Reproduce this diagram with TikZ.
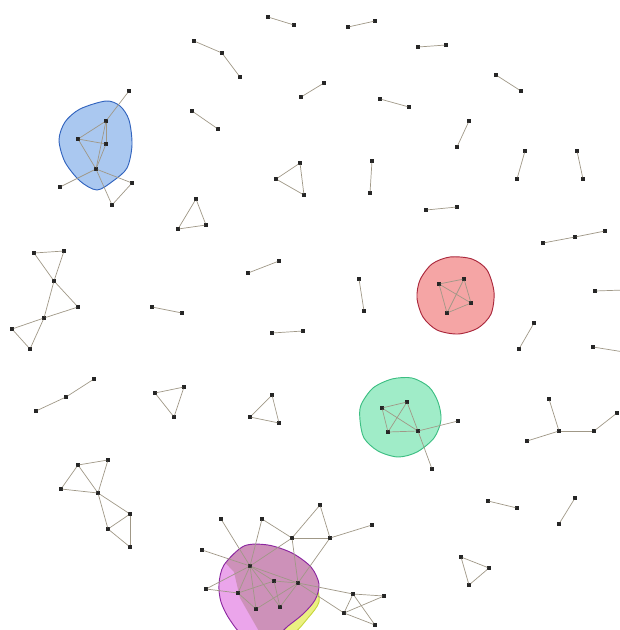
\documentclass[tikz,border=0pt]{standalone}
\usepackage{tikz}
\usetikzlibrary{positioning}
\definecolor{linkgray}{RGB}{160,152,135}
\definecolor{bluefill}{RGB}{170,200,240}
\definecolor{blueline}{RGB}{50,100,190}
\definecolor{redfill}{RGB}{245,165,165}
\definecolor{redline}{RGB}{170,40,60}
\definecolor{greenfill}{RGB}{160,236,200}
\definecolor{greenline}{RGB}{60,190,130}
\definecolor{pinkfill}{RGB}{235,165,235}
\definecolor{pinkdark}{RGB}{205,145,185}
\definecolor{pinkline}{RGB}{140,40,160}
\definecolor{yellowfill}{RGB}{235,240,130}
\definecolor{yellowline}{RGB}{200,215,60}
\begin{document}
\begin{tikzpicture}[x=0.03cm,y=-0.03cm,
  vtx/.style={rectangle,fill=black!85,inner sep=0pt,minimum size=2.6pt},
  link/.style={draw=linkgray,line width=0.6pt},
  hull/.style={line width=0.8pt}]
  \useasboundingbox (0,0) rectangle (620,630);
  \clip (0,0) rectangle (620,630);
  % hulls
  \filldraw[hull,fill=bluefill,draw=blueline] plot[smooth cycle] coordinates {(106,101) (120,106) (129,120) (132,145) (127,168) (113,181) (97,190) (80,181) (65,162) (59,140) (65,122) (80,109)};
  \filldraw[hull,fill=redfill,draw=redline] plot[smooth cycle] coordinates {(420,280) (432,264) (450,257) (472,259) (487,270) (494,292) (491,314) (478,328) (458,334) (437,330) (423,317) (417,298)};
  \filldraw[hull,fill=greenfill,draw=greenline] plot[smooth cycle] coordinates {(361,405) (373,388) (392,379) (412,378) (429,387) (438,402) (441,420) (434,438) (417,452) (398,457) (378,451) (364,438) (360,420)};
  \filldraw[hull,fill=yellowfill,draw=yellowline] plot[smooth cycle] coordinates {(250,552) (270,552) (290,558) (306,570) (316,585) (319,602) (308,618) (290,636) (262,640) (242,600) (234,570)};
  \fill[pinkfill] plot[smooth cycle] coordinates {(244,546) (268,545) (292,553) (311,567) (319,584) (315,600) (303,614) (288,626) (275,636) (245,636) (230,620) (221,602) (219,584) (224,565)};
  \begin{scope}
    \clip plot[smooth cycle] coordinates {(244,546) (268,545) (292,553) (311,567) (319,584) (315,600) (303,614) (288,626) (275,636) (245,636) (230,620) (221,602) (219,584) (224,565)};
    \fill[pinkdark] (215,530) -- (340,530) -- (340,640) -- (264,640) -- (240,598) -- (234,572) -- (215,552) -- cycle;
  \end{scope}
  \draw[hull,draw=pinkline] plot[smooth cycle] coordinates {(244,546) (268,545) (292,553) (311,567) (319,584) (315,600) (303,614) (288,626) (275,636) (245,636) (230,620) (221,602) (219,584) (224,565)};
  % vertices
  \foreach \n/\x/\y in {b1/129/91,b2/106/121,b3/78/139,b4/106/144,b5/96/169,b6/60/187,b7/132/183,b8/112/205,
    r1/439/284,r2/464/279,r3/471/303,r4/447/313,
    g1/382/408,g2/407/402,g3/388/432,g4/418/431,g5/458/421,g6/432/469,
    m1/221/519,m2/262/519,m3/320/505,m4/372/525,m5/292/538,m6/330/538,m7/202/550,m8/250/566,m9/274/581,
    m10/298/583,m11/206/589,m12/238/593,m13/256/609,m14/280/607,m15/353/594,m16/384/596,m17/344/613,m18/375/625,
    a1/268/17,a2/294/25,c1/194/41,c2/222/53,c3/240/77,d1/192/111,d2/218/129,e1/301/97,e2/324/83,
    f1/348/27,f2/375/21,h1/418/47,h2/446/45,i1/380/99,i2/409/107,j1/496/75,j2/521/91,
    k1/469/121,k2/457/147,l1/372/161,l2/370/193,n1/525/151,n2/517/179,o1/577/151,o2/583/179,
    q1/426/210,q2/457/207,s1/300/163,s2/276/179,s3/304/195,u1/196/199,u2/178/229,u3/206/225,
    w1/34/253,w2/64/251,w3/54/281,w4/78/307,w5/44/318,w6/12/329,w7/30/349,
    v1/248/273,v2/279/261,x1/152/307,x2/182/313,y1/272/333,y2/303/331,z1/36/411,z2/66/397,z3/94/379,
    p1/155/393,p2/184/387,p3/174/417,p4/272/395,p5/250/417,p6/279/423,
    aa1/543/243,aa2/575/237,aa3/605/231,bb1/359/279,bb2/364/311,cc1/595/291,dd1/534/323,dd2/519/349,ee1/593/347,
    ff1/549/399,ff2/559/431,ff3/527/441,ff4/594/431,ff5/617/413,gg1/488/501,gg2/517/508,hh1/575/498,hh2/559/524,
    kk1/461/557,kk2/489/568,kk3/469/585,
    la1/78/465,la2/108/460,la3/61/489,la4/98/493,la5/130/514,la6/108/529,la7/130/547}
    \node[vtx] (\n) at (\x,\y) {};
  \coordinate (cc2) at (624,290);
  \coordinate (ee2) at (624,352);
  % links
  \foreach \a/\b in {b1/b2,b2/b3,b2/b4,b3/b4,b2/b5,b4/b5,b3/b5,b5/b8,b5/b6,b5/b7,b7/b8,
    r1/r2,r1/r3,r1/r4,r2/r3,r2/r4,r3/r4,
    g1/g2,g1/g3,g1/g4,g2/g4,g2/g3,g3/g4,g4/g5,g4/g6,
    m1/m8,m2/m8,m2/m5,m3/m5,m3/m6,m5/m6,m6/m4,m5/m10,m6/m10,m5/m8,m7/m8,m11/m12,m11/m8,m8/m12,m8/m13,
    m8/m9,m8/m10,m8/m14,m12/m9,m12/m13,m9/m10,m9/m14,m13/m10,m14/m10,m10/m15,m10/m17,
    m15/m16,m15/m17,m17/m16,m17/m18,m15/m18,
    a1/a2,c1/c2,c2/c3,d1/d2,e1/e2,f1/f2,h1/h2,i1/i2,j1/j2,k1/k2,l1/l2,n1/n2,o1/o2,q1/q2,
    s1/s2,s2/s3,s3/s1,u1/u2,u2/u3,u3/u1,
    w1/w2,w1/w3,w2/w3,w3/w4,w3/w5,w4/w5,w5/w6,w5/w7,w6/w7,
    v1/v2,x1/x2,y1/y2,z1/z2,z2/z3,p1/p2,p2/p3,p3/p1,p4/p5,p5/p6,p6/p4,
    aa1/aa2,aa2/aa3,bb1/bb2,cc1/cc2,dd1/dd2,ee1/ee2,
    ff1/ff2,ff3/ff2,ff2/ff4,ff4/ff5,gg1/gg2,hh1/hh2,kk1/kk2,kk2/kk3,kk3/kk1,
    la1/la2,la1/la3,la3/la4,la1/la4,la2/la4,la4/la5,la4/la6,la6/la5,la5/la7,la6/la7}
    \draw[link] (\a) -- (\b);
\end{tikzpicture}
\end{document}
